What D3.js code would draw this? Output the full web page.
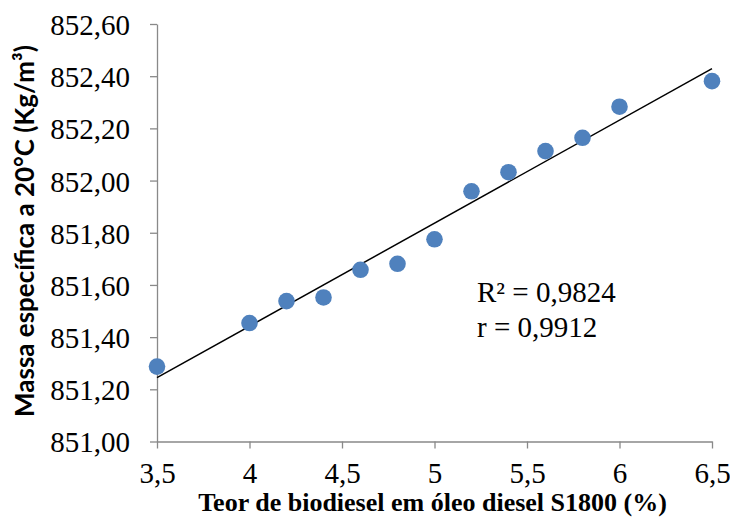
<!DOCTYPE html>
<html>
<head>
<meta charset="utf-8">
<script src="https://cdn.jsdelivr.net/npm/d3@7"></script>
<style>
  html, body { margin: 0; padding: 0; background: #fff; }
  svg { display: block; }
  .serif { font-family: "Liberation Serif", "Times New Roman", Tinos, "DejaVu Serif", serif; }
</style>
</head>
<body>
<svg id="chart" width="730" height="517"></svg>
<script>
// Biodiesel content (%) and measured density at 20 °C (kg/m³)
const teorBiodiesel = [3.5, 4.0, 4.2, 4.4, 4.6, 4.8, 5.0, 5.2, 5.4, 5.6, 5.8, 6.0, 6.5];
const massaEspecifica = [851.287, 851.454, 851.538, 851.552, 851.658, 851.681, 851.775,
                         851.959, 852.032, 852.113, 852.164, 852.283, 852.381];
const xTickValues = [3.5, 4, 4.5, 5, 5.5, 6, 6.5];
const xTickLabels = ["3,5", "4", "4,5", "5", "5,5", "6", "6,5"];
const yTickValues = [851.0, 851.2, 851.4, 851.6, 851.8, 852.0, 852.2, 852.4, 852.6];
const yTickLabels = ["851,00", "851,20", "851,40", "851,60", "851,80", "852,00", "852,20", "852,40", "852,60"];
const statLines = ["R² = 0,9824", "r = 0,9912"];

const svg = d3.select("#chart");
const plot = { left: 157, right: 712, top: 24, bottom: 441.5 };

const x = d3.scaleLinear().domain([3.5, 6.5]).range([plot.left, plot.right]);
const y = d3.scaleLinear().domain([851.0, 852.6]).range([plot.bottom, plot.top]);

const axisColor = "#898989";
const serifFamily = '"Liberation Serif", "Times New Roman", Tinos, "DejaVu Serif", serif';

// Y axis
const yAxis = svg.append("g")
  .attr("transform", `translate(${plot.left},0)`)
  .call(d3.axisLeft(y)
    .tickValues(yTickValues)
    .tickFormat((d, i) => yTickLabels[i])
    .tickSize(7).tickSizeOuter(0).tickPadding(20));

// X axis
const xAxis = svg.append("g")
  .attr("transform", `translate(0,${plot.bottom})`)
  .call(d3.axisBottom(x)
    .tickValues(xTickValues)
    .tickFormat((d, i) => xTickLabels[i])
    .tickSize(7).tickSizeOuter(0).tickPadding(14));

[yAxis, xAxis].forEach(g => {
  g.attr("font-family", serifFamily).attr("font-size", 29);
  g.selectAll("path.domain").attr("stroke", axisColor).attr("stroke-width", 1.3);
  g.selectAll(".tick line").attr("stroke", axisColor).attr("stroke-width", 1.3);
  g.selectAll(".tick text")
    .attr("class", "serif")
    .attr("fill", "#000")
    .attr("font-family", serifFamily)
    .attr("font-size", 29);
});
yAxis.selectAll(".tick text").attr("dy", "0.36em");
xAxis.selectAll(".tick text").attr("dy", "0.71em");

// Least-squares trendline through the measured points
const mx = d3.mean(teorBiodiesel), my = d3.mean(massaEspecifica);
let sxy = 0, sxx = 0;
teorBiodiesel.forEach((xi, i) => {
  sxy += (xi - mx) * (massaEspecifica[i] - my);
  sxx += (xi - mx) * (xi - mx);
});
const slope = sxy / sxx, intercept = my - slope * mx;
const xExtent = d3.extent(teorBiodiesel);

svg.append("line")
  .attr("x1", x(xExtent[0])).attr("y1", y(intercept + slope * xExtent[0]))
  .attr("x2", x(xExtent[1])).attr("y2", y(intercept + slope * xExtent[1]))
  .attr("stroke", "#000").attr("stroke-width", 1.5);

// Data points
svg.append("g")
  .selectAll("circle")
  .data(teorBiodiesel.map((t, i) => ({ t, m: massaEspecifica[i] })))
  .join("circle")
  .attr("cx", d => x(d.t))
  .attr("cy", d => y(d.m))
  .attr("r", 8.3)
  .attr("fill", "#4F81BD");

// Fit statistics
svg.append("g")
  .selectAll("text")
  .data(statLines)
  .join("text")
  .attr("class", "serif")
  .attr("x", 477)
  .attr("y", (d, i) => 302 + i * 35)
  .attr("font-family", serifFamily)
  .attr("font-size", 29)
  .attr("fill", "#000")
  .text(d => d);

// Axis titles
svg.append("text")
  .attr("class", "serif")
  .attr("x", (plot.left + plot.right) / 2 - 2)
  .attr("y", 511)
  .attr("text-anchor", "middle")
  .attr("font-family", serifFamily)
  .attr("font-weight", "bold")
  .attr("font-size", 26)
  .attr("fill", "#000")
  .text("Teor de biodiesel em óleo diesel S1800 (%)");

const yTitle = svg.append("text")
  .attr("transform", "translate(34,231) rotate(-90)")
  .attr("text-anchor", "middle")
  .attr("font-family", "Lato, 'Open Sans', sans-serif")
  .attr("font-weight", "bold")
  .attr("font-size", 24)
  .attr("fill", "#000")
  .text("Massa específica a 20°C (Kg/m³)");

// Fit the rotated title to the height of the value axis
const titleLen = yTitle.node().getComputedTextLength();
const titleSize = Math.min(26, 24 * 372 / titleLen);
yTitle.attr("font-size", titleSize);
</script>
</body>
</html>
